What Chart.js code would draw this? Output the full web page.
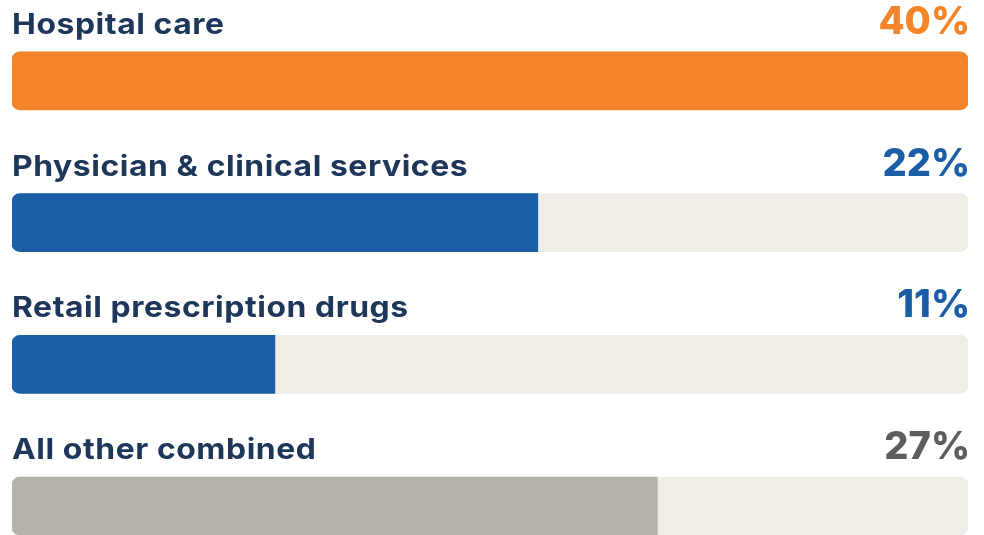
<!DOCTYPE html>
<html>
<head>
<meta charset="utf-8">
<script src="https://cdn.jsdelivr.net/npm/chart.js@4"></script>
<style>
    html, body { margin: 0; padding: 0; background: #ffffff; overflow: hidden; }
    #wrap { width: 984px; height: 535px; overflow: hidden; }
</style>
</head>
<body>
<div id="wrap">
    <canvas id="spendChart" width="984" height="590"></canvas>
</div>
<script>
const categories = ["Hospital care", "Physician & clinical services", "Retail prescription drugs", "All other combined"];
const shares = [40, 22, 11, 27];
const scaleMax = 40;

const barColors   = ["#F4842A", "#1A5EA6", "#1A5EA6", "#B5B2AA"];
const valueColors = ["#F4842A", "#1A5EA6", "#1A5EA6", "#5E5D59"];
const labelColor  = "#1D3659";
const trackColor  = "#F0EDE6";

// the source font is wider than anything installed, so stretch the labels a bit
const LABEL_STRETCH = 1.1;

const textPlugin = {
    id: 'barText',
    afterDatasetsDraw(chart) {
        const ctx = chart.ctx;
        const area = chart.chartArea;
        const meta = chart.getDatasetMeta(0);

        meta.data.forEach((bar, i) => {
            const top = bar.y - bar.height / 2;

            ctx.save();
            ctx.textBaseline = 'alphabetic';
            ctx.font = '700 29px Inter, "Open Sans", sans-serif';
            ctx.letterSpacing = '0.5px';
            ctx.fillStyle = labelColor;
            ctx.textAlign = 'left';
            ctx.translate(area.left, top - 18);
            ctx.scale(LABEL_STRETCH, 1);
            ctx.fillText(categories[i], 0, 0);
            ctx.restore();

            ctx.save();
            ctx.textBaseline = 'alphabetic';
            ctx.font = '800 38px Inter, "Open Sans", sans-serif';
            ctx.fillStyle = valueColors[i];
            ctx.textAlign = 'right';
            ctx.fillText(shares[i] + '%', area.right + 2, top - 18);
            ctx.restore();
        });
    }
};

new Chart(
    document.getElementById('spendChart'),
    {
        type: 'bar',

        data: {
            labels: categories,
            datasets: [
                {
                    data: shares,
                    backgroundColor: barColors,
                    borderSkipped: false,
                    borderRadius: (c) => c.raw >= scaleMax
                        ? 8
                        : { topLeft: 8, bottomLeft: 8, topRight: 0, bottomRight: 0 },
                    barThickness: 58,
                    grouped: false,
                    order: 0
                },
                {
                    data: shares.map(() => scaleMax),
                    backgroundColor: trackColor,
                    borderSkipped: false,
                    borderRadius: 8,
                    barThickness: 58,
                    grouped: false,
                    order: 1
                }
            ]
        },

        options: {
            indexAxis: 'y',
            responsive: false,
            animation: false,
            layout: {
                padding: { left: 12, right: 16, top: 10, bottom: 13 }
            },
            plugins: {
                legend: { display: false },
                tooltip: { enabled: false }
            },
            scales: {
                x: { display: false, min: 0, max: scaleMax },
                y: { display: false }
            }
        },

        plugins: [textPlugin]
    }
);
</script>
</body>
</html>
